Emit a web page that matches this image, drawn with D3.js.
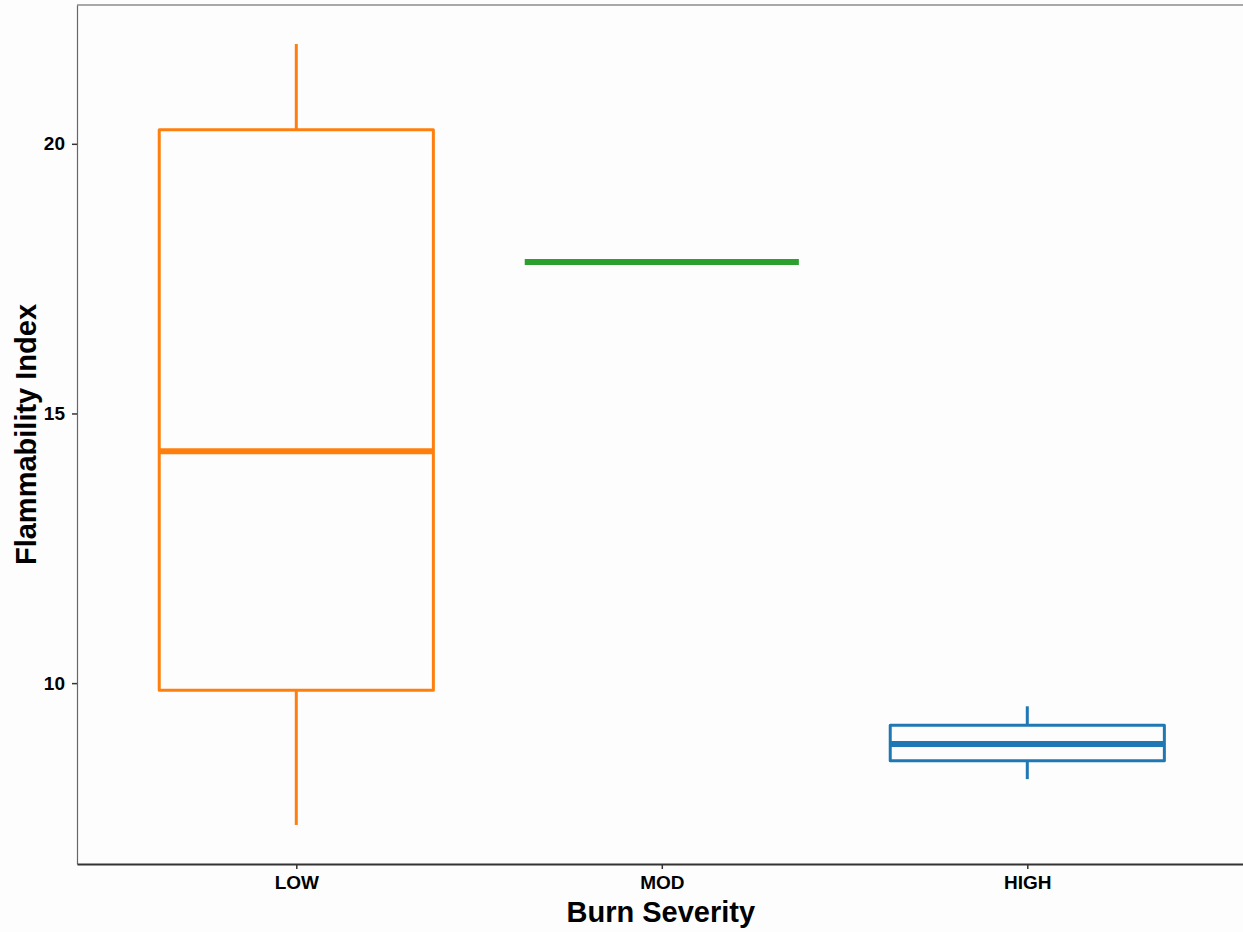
<!DOCTYPE html>
<html>
<head>
<meta charset="utf-8">
<script src="https://cdn.jsdelivr.net/npm/d3@7"></script>
<style>
  html, body { margin: 0; padding: 0; background: #fdfdfd; }
  svg { display: block; font-family: "Liberation Sans", Arial, sans-serif; }
</style>
</head>
<body>
<svg id="chart" width="1243" height="932"></svg>
<script>
// Burn severity classes and their box-plot summaries (flammability index)
const categories = ["LOW", "MOD", "HIGH"];
const whiskerLow = [7.37, 17.81, 8.22];
const q1 = [9.87, 17.81, 8.56];
const median = [14.30, 17.81, 8.87];
const q3 = [20.26, 17.81, 9.22];
const whiskerHigh = [21.85, 17.81, 9.57];
const colors = ["#ff7f0e", "#2ca02c", "#1f77b4"];
const yTicks = [10, 15, 20];

const data = categories.map((c, i) => ({
  cat: c, lo: whiskerLow[i], q1: q1[i], med: median[i], q3: q3[i], hi: whiskerHigh[i], color: colors[i]
}));

const svg = d3.select("#chart");
const W = 1243, H = 932;
const m = { left: 77, top: 5, bottom: 864 };
const plotRight = m.left + 1169.6; // panel runs slightly past the canvas edge

// y domain with 5% padding on each side of the data range
const yMin = d3.min(whiskerLow), yMax = d3.max(whiskerHigh);
const pad = (yMax - yMin) * 0.05;
const y = d3.scaleLinear().domain([yMin - pad, yMax + pad]).range([m.bottom, m.top]);

// discrete x with 0.6 units of padding on both ends
const x = d3.scalePoint().domain(categories).range([m.left, plotRight]).padding(0.6);
const step = x.step();
const boxW = step * 0.75;

svg.append("rect").attr("width", W).attr("height", H).attr("fill", "#fdfdfd");

// panel top border
svg.append("line").attr("x1", m.left).attr("x2", W).attr("y1", m.top).attr("y2", m.top)
  .attr("stroke", "#555").attr("stroke-width", 1.2);

// boxes
const g = svg.append("g");
data.forEach(d => {
  const cx = x(d.cat);
  const bg = g.append("g").attr("stroke", d.color).attr("fill", "none");
  // whiskers
  bg.append("line").attr("x1", cx).attr("x2", cx).attr("y1", y(d.q3)).attr("y2", y(d.hi)).attr("stroke-width", 3);
  bg.append("line").attr("x1", cx).attr("x2", cx).attr("y1", y(d.q1)).attr("y2", y(d.lo)).attr("stroke-width", 3);
  // box
  bg.append("rect").attr("x", cx - boxW / 2).attr("width", boxW)
    .attr("y", y(d.q3)).attr("height", Math.max(0, y(d.q1) - y(d.q3)))
    .attr("stroke-width", 3).attr("stroke-linejoin", "round");
  // median
  bg.append("line").attr("x1", cx - boxW / 2).attr("x2", cx + boxW / 2)
    .attr("y1", y(d.med)).attr("y2", y(d.med)).attr("stroke-width", 6);
});

const tickFont = 19;

// y axis
const yAxis = svg.append("g").attr("transform", `translate(${m.left},0)`)
  .call(d3.axisLeft(y).tickValues(yTicks).tickSize(5).tickSizeOuter(0).tickPadding(7).tickFormat(d3.format("d")));
yAxis.select(".domain").attr("stroke", "#666").attr("stroke-width", 1.2);
yAxis.selectAll(".tick line").attr("stroke", "#333").attr("stroke-width", 1.5);
yAxis.selectAll(".tick text").attr("fill", "#000").attr("font-size", tickFont).attr("font-weight", "bold")
  .attr("font-family", "Liberation Sans, Arial, sans-serif");

// x axis
const xAxis = svg.append("g").attr("transform", `translate(0,${m.bottom})`)
  .call(d3.axisBottom(x).tickSize(5).tickSizeOuter(0).tickPadding(7));
xAxis.select(".domain").attr("stroke", "#333").attr("stroke-width", 2.2);
xAxis.selectAll(".tick line").attr("stroke", "#333").attr("stroke-width", 1.5);
xAxis.selectAll(".tick text").attr("fill", "#000").attr("font-size", tickFont).attr("font-weight", "bold")
  .attr("font-family", "Liberation Sans, Arial, sans-serif");

// axis titles
svg.append("text").attr("x", (m.left + plotRight) / 2 - 1).attr("y", 922)
  .attr("text-anchor", "middle").attr("font-size", 29).attr("font-weight", "bold").attr("fill", "#000")
  .text("Burn Severity");
svg.append("text").attr("transform", `translate(36,${(m.top + m.bottom) / 2}) rotate(-90)`)
  .attr("text-anchor", "middle").attr("font-size", 29).attr("font-weight", "bold").attr("fill", "#000")
  .text("Flammability Index");
</script>
</body>
</html>
